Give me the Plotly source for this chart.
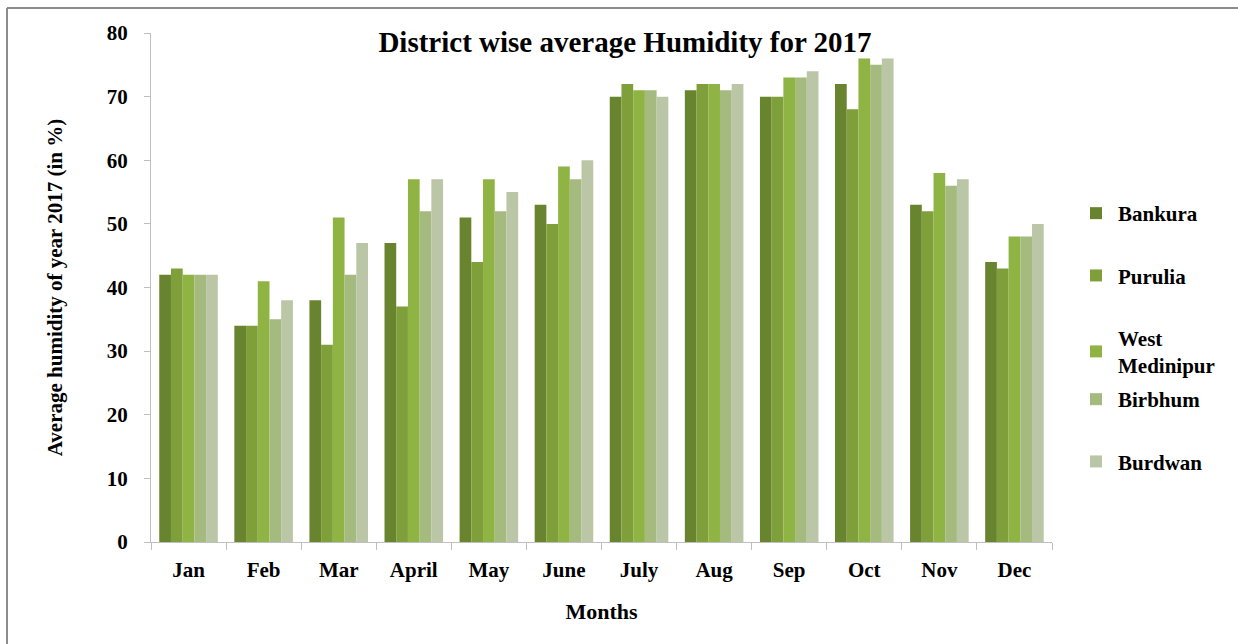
import plotly.graph_objects as go

# Monthly average humidity (%) per district, 2017
months = ["Jan", "Feb", "Mar", "April", "May", "June",
          "July", "Aug", "Sep", "Oct", "Nov", "Dec"]

bankura = [42, 34, 38, 47, 51, 53, 70, 71, 70, 72, 53, 44]
purulia = [43, 34, 31, 37, 44, 50, 72, 72, 70, 68, 52, 43]
west_medinipur = [42, 41, 51, 57, 57, 59, 71, 72, 73, 76, 58, 48]
birbhum = [42, 35, 42, 52, 52, 57, 71, 71, 73, 75, 56, 48]
burdwan = [42, 38, 47, 57, 55, 60, 70, 72, 74, 76, 57, 50]

# name, values, colour, which legend box it is listed in
series = [
    ("Bankura", bankura, "#68842f", "legend"),
    ("Purulia", purulia, "#7e9f39", "legend"),
    ("West<br>Medinipur", west_medinipur, "#8fb443", "legend"),
    ("Birbhum", birbhum, "#a4ba7f", "legend2"),
    ("Burdwan", burdwan, "#bac6a6", "legend2"),
]

SERIF = "Liberation Serif, Times New Roman, serif"

fig = go.Figure()
for i, (name, vals, col, leg) in enumerate(series):
    fig.add_trace(go.Bar(
        x=months, y=vals, name=f"<b>{name}</b>",
        marker=dict(color=col, line=dict(width=0)),
        legendgroup=f"g{i}", legend=leg,
    ))

W, H = 1238, 644
L, R, T, B = 151, 186, 33, 102
pw, ph = W - L - R, H - T - B


def px_x(x):
    return (x - L) / pw


def px_y(y):
    return 1 - (y - T) / ph


legend_style = dict(
    xanchor="left", yanchor="top",
    font=dict(family=SERIF, size=21, color="black"),
    tracegroupgap=32, itemwidth=34,
    bgcolor="rgba(0,0,0,0)",
)

fig.update_layout(
    width=W, height=H,
    margin=dict(l=L, r=R, t=T, b=B),
    paper_bgcolor="white", plot_bgcolor="white",
    barmode="group", bargap=0.22, bargroupgap=0,
    font=dict(family=SERIF, color="black", size=21),
    title=dict(
        text="<b>District wise average Humidity for 2017</b>",
        font=dict(family=SERIF, size=29, color="black"),
        x=625 / W, xanchor="center", xref="container",
        y=1 - 42 / H, yanchor="middle", yref="container",
    ),
    legend=dict(x=px_x(1074), y=px_y(193), **legend_style),
    legend2=dict(x=px_x(1074), y=px_y(379), **legend_style),
    showlegend=True,
)

fig.update_xaxes(
    showline=True, linecolor="#bfbfbf", linewidth=1,
    ticks="outside", tickson="boundaries", ticklen=7, tickcolor="#bfbfbf",
    tickfont=dict(family=SERIF, size=21, color="black"),
    tickprefix="<b>", ticksuffix="</b>",
    ticklabelstandoff=9,
    title=dict(text="<b>Months</b>", font=dict(family=SERIF, size=22, color="black"),
               standoff=22),
    showgrid=False,
)

fig.update_yaxes(
    range=[0, 80], dtick=10,
    showline=True, linecolor="#bfbfbf", linewidth=1,
    ticks="outside", ticklen=6, tickcolor="#bfbfbf",
    tickfont=dict(family=SERIF, size=21, color="black"),
    tickprefix="<b>", ticksuffix="</b>",
    ticklabelstandoff=12,
    title=dict(text="<b>Average humidity of year 2017 (in %)</b>",
               font=dict(family=SERIF, size=21, color="black"),
               standoff=38),
    showgrid=False, zeroline=False,
)

# Frame around the chart (top and left edges)
fx0 = px_x(7)
fy1 = px_y(8)
fig.add_shape(type="line", xref="paper", yref="paper",
              x0=fx0, x1=px_x(W + 10), y0=fy1, y1=fy1,
              line=dict(color="#8c8c8c", width=2))
fig.add_shape(type="line", xref="paper", yref="paper",
              x0=fx0, x1=fx0, y0=fy1, y1=px_y(H + 10),
              line=dict(color="#8c8c8c", width=2))

fig.write_html("out.html")
